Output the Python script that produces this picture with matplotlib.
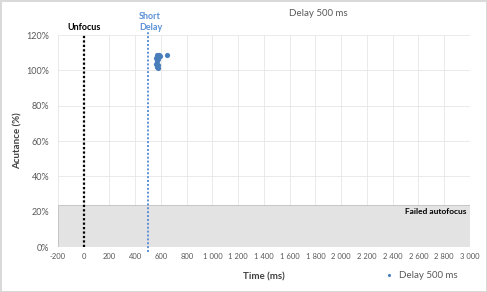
import matplotlib
matplotlib.use("Agg")
import matplotlib.pyplot as plt
from matplotlib.patches import Rectangle

# Data
time_ms = [570, 582, 590, 565, 575, 568, 562, 575, 568, 578, 648]
acutance = [108.5, 108.8, 108.0, 107.0, 106.5, 105.5, 103.5, 103.0, 102.0, 101.5, 108.5]
unfocus_x = 0
short_delay_x = 500
failed_threshold = 24
x_ticks = list(range(-200, 3001, 200))
y_ticks = list(range(0, 121, 20))
series_name = "Delay 500 ms"

plt.rcParams['font.family'] = ['Lato', 'DejaVu Sans']

fig = plt.figure(figsize=(4.87, 2.92), dpi=100)
fig.patch.set_facecolor('white')
fig.patch.set_edgecolor('#d9d9d9')
fig.patch.set_linewidth(1.0)
ax = fig.add_axes([0.119, 0.154, 0.846, 0.726])

ax.set_xlim(-200, 3000)
ax.set_ylim(0, 120)

# gray failed band
ax.add_patch(Rectangle((-200, 0), 3200, failed_threshold, facecolor='#e3e3e3',
                       edgecolor='#bfbfbf', linewidth=0.6, zorder=1))

ax.set_xticks(x_ticks)
ax.set_yticks(y_ticks)
ax.set_xticklabels([f"{v:,}".replace(",", " ") for v in x_ticks])
ax.set_yticklabels([f"{v}%" for v in y_ticks])
ax.grid(True, color='#e6e6e6', linewidth=0.6, zorder=0)
ax.set_axisbelow(True)
for s in ax.spines.values():
    s.set_visible(False)
ax.tick_params(axis='x', length=0, labelsize=5.5, colors='#595959', pad=4)
ax.tick_params(axis='y', length=0, labelsize=6.5, colors='#595959', pad=6)

ax.plot([unfocus_x, unfocus_x], [0, 120], color='black', linestyle=(0, (1, 1)),
        linewidth=1.6, zorder=3)
ax.plot([short_delay_x, short_delay_x], [-3, 122], color='#5b8fd6', linestyle=(0, (1, 1)),
        linewidth=1.4, zorder=3, clip_on=False)

ax.scatter(time_ms, acutance, s=14, color='#4a7ebb', zorder=4, label=series_name,
           linewidths=0)

ax.text(2970, failed_threshold - 2, "Failed autofocus", ha='right', va='top',
        fontsize=6, fontweight='bold', color='black', zorder=5)
ax.text(unfocus_x, 121.5, "Unfocus", ha='center', va='bottom', fontsize=6.5,
        fontweight='bold', color='black')
ax.text(short_delay_x + 20, 121.5, "Short\nDelay", ha='center', va='bottom', fontsize=6.5,
        fontweight='bold', color='#5b8fd6', linespacing=1.4, multialignment='left')
fig.text(0.653, 0.955, series_name, ha='center', va='center', fontsize=7,
         color='#595959')

ax.set_xlabel("Time (ms)", fontsize=7, fontweight='bold', color='#404040', labelpad=9)
ax.set_ylabel("Acutance (%)", fontsize=7, fontweight='bold', color='#404040', labelpad=3)

leg = fig.legend(loc='center left', bbox_to_anchor=(0.77, 0.058), frameon=False,
                 fontsize=7, handletextpad=0.1, markerscale=0.6, borderaxespad=0)
for t in leg.get_texts():
    t.set_color('#595959')

fig.savefig("out.png", dpi=100)
